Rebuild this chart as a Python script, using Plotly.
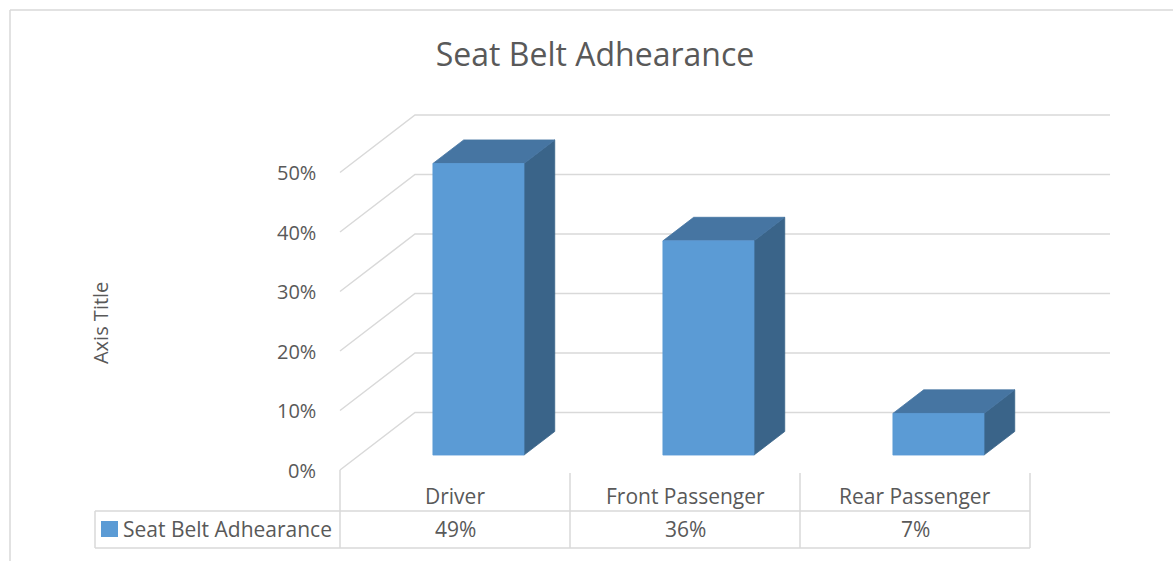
import plotly.graph_objects as go

categories = ["Driver", "Front Passenger", "Rear Passenger"]
adherence = [0.49, 0.36, 0.07]
tick_values = [0, 0.1, 0.2, 0.3, 0.4, 0.5]
tick_labels = ["0%", "10%", "20%", "30%", "40%", "50%"]
series_name = "Seat Belt Adhearance"

# fake 3d: depth vector in data units (x = category units, y = value)
DX, DY = 0.326, 0.0966
D0, DB = 0.26, 0.41          # bar front depth and bar thickness (fractions of full depth)
BL, BR = -0.096, 0.30        # bar front face offsets from category centre
WALL_RIGHT = 0.348           # back wall runs a bit past the last column

GRID = "#D9D9D9"
TXT = "#595959"
FRONT = "#5B9BD5"
TOP = "#4675A2"
SIDE = "#3A6489"
FONT = "Open Sans, sans-serif"
FS = 21

fig = go.Figure()

# walls: left side lines and back wall lines
for v in tick_values:
    fig.add_trace(go.Scatter(
        x=[-0.5, -0.5 + DX, len(categories) - 0.5 + WALL_RIGHT],
        y=[v, v + DY, v + DY],
        mode="lines", line=dict(color=GRID, width=1.5),
        hoverinfo="skip", showlegend=False))


def poly(xs, ys, color):
    fig.add_trace(go.Scatter(
        x=xs + [xs[0]], y=ys + [ys[0]], mode="lines", fill="toself",
        fillcolor=color, line=dict(color=color, width=0.8),
        hoverinfo="skip", showlegend=False))


for i, (cat, val) in enumerate(zip(categories, adherence)):
    x0, x1 = i + BL, i + BR
    y0 = D0 * DY
    y1 = y0 + val
    ox, oy = DB * DX, DB * DY
    # side face
    poly([x1, x1, x1 + ox, x1 + ox], [y0, y1, y1 + oy, y0 + oy], SIDE)
    # top face
    poly([x0, x1, x1 + ox, x0 + ox], [y1, y1, y1 + oy, y1 + oy], TOP)
    # front face
    poly([x0, x1, x1, x0], [y0, y0, y1, y1], FRONT)
    fig.add_trace(go.Scatter(x=[i], y=[val], mode="markers", marker=dict(opacity=0),
                             hovertemplate=f"{cat}: {val:.0%}<extra></extra>", showlegend=False))

annotations = []
for v, lab in zip(tick_values, tick_labels):
    annotations.append(dict(x=-0.5, y=v, xref="x", yref="y", text=lab, showarrow=False,
                            xanchor="right", yanchor="middle", xshift=-22,
                            font=dict(size=FS - 1, color=TXT)))

# data table
shapes = []
row1_top, row_mid, row_bot = 1 - 473 / 561, 1 - 511 / 561, 1 - 548 / 561
n = len(categories)
tbl_left = (95 - 455) / 230
for k in range(n + 1):
    shapes.append(dict(type="line", xref="x", yref="paper", x0=k - 0.5, x1=k - 0.5,
                       y0=row_bot, y1=row1_top if k else 1 - 470 / 561,
                       line=dict(color=GRID, width=1.5)))
for yy in [row_mid, row_bot]:
    shapes.append(dict(type="line", xref="x", yref="paper", x0=tbl_left, x1=n - 0.5, y0=yy, y1=yy,
                       line=dict(color=GRID, width=1.5)))
shapes.append(dict(type="line", xref="x", yref="paper", x0=tbl_left, x1=tbl_left, y0=row_bot, y1=row_mid,
                   line=dict(color=GRID, width=1.5)))
# legend key
shapes.append(dict(type="rect", xref="x", yref="paper", x0=(101 - 455) / 230, x1=(118 - 455) / 230,
                   y0=1 - 537 / 561, y1=1 - 521 / 561, fillcolor=FRONT, line=dict(width=0)))
# chart border (left + top)
shapes.append(dict(type="line", xref="paper", yref="paper", x0=10 / 1173, x1=10 / 1173, y0=0, y1=1 - 10 / 561,
                   line=dict(color=GRID, width=1.5)))
shapes.append(dict(type="line", xref="paper", yref="paper", x0=10 / 1173, x1=1, y0=1 - 10 / 561, y1=1 - 10 / 561,
                   line=dict(color=GRID, width=1.5)))

for i, (cat, val) in enumerate(zip(categories, adherence)):
    annotations.append(dict(x=i, y=1 - 496 / 561, xref="x", yref="paper", text=cat, showarrow=False,
                            xanchor="center", yanchor="middle", font=dict(size=FS, color=TXT)))
    annotations.append(dict(x=i, y=1 - 529 / 561, xref="x", yref="paper", text=f"{val:.0%}", showarrow=False,
                            xanchor="center", yanchor="middle", font=dict(size=FS, color=TXT)))
annotations.append(dict(x=(121 - 455) / 230, y=1 - 529 / 561, xref="x", yref="paper", text=series_name,
                        showarrow=False, xanchor="left", yanchor="middle", font=dict(size=FS, color=TXT)))
annotations.append(dict(x=(100 - 455) / 230, y=0.247, xref="x", yref="y", text="Axis Title", showarrow=False,
                        xanchor="center", yanchor="middle", textangle=-90, font=dict(size=FS - 1, color=TXT)))

fig.update_layout(
    width=1173, height=561,
    margin=dict(l=0, r=0, t=0, b=0),
    paper_bgcolor="white", plot_bgcolor="white",
    font=dict(family=FONT, color=TXT),
    title=dict(text="Seat Belt Adhearance", x=595 / 1173, xanchor="center", y=1 - 55 / 561, yanchor="middle",
               font=dict(size=32, color=TXT, family=FONT)),
    xaxis=dict(range=[-455 / 230, (1173 - 455) / 230], visible=False, fixedrange=True),
    yaxis=dict(range=[(470 - 561) / 595, 470 / 595], visible=False, fixedrange=True),
    shapes=shapes,
    annotations=annotations,
    showlegend=False,
)

fig.write_html("out.html", config={"displayModeBar": False},
               post_script="document.body.style.margin='0';")
